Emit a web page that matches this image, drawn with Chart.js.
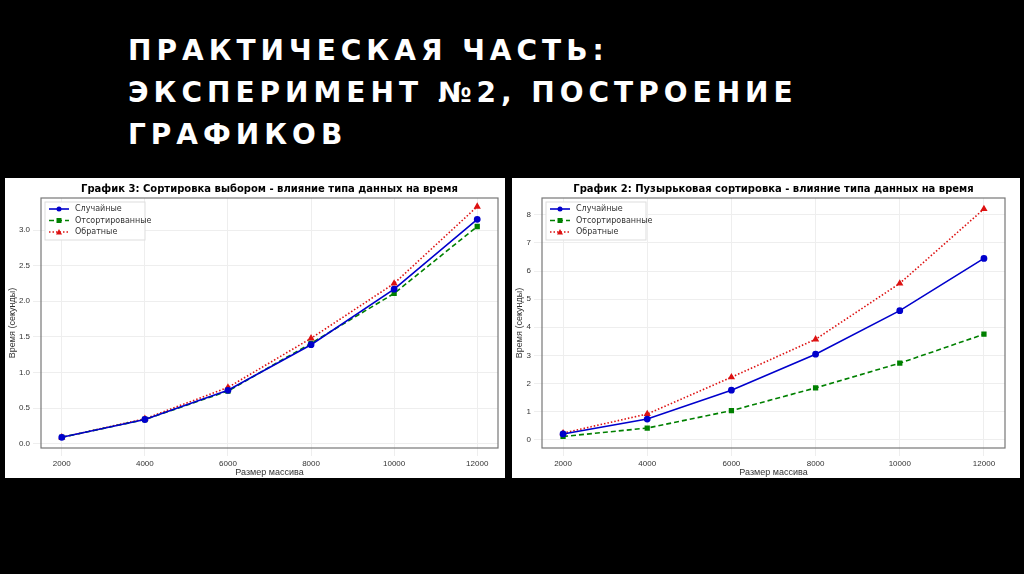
<!DOCTYPE html><html><head><meta charset="utf-8">
<script src="https://cdn.jsdelivr.net/npm/chart.js@4"></script>
<style>
body{margin:0;background:#000;width:1024px;height:574px;overflow:hidden;position:relative;font-family:"DejaVu Sans",sans-serif}
#t{position:absolute;left:128px;top:30px;color:#fff;font:bold 28px "DejaVu Sans",sans-serif;letter-spacing:5px;line-height:42px}
.c{position:absolute;background:#fff}
</style></head><body>
<div id="t">ПРАКТИЧЕСКАЯ ЧАСТЬ:<br>ЭКСПЕРИМЕНТ №2, ПОСТРОЕНИЕ<br>ГРАФИКОВ</div>
<div class="c" style="left:5px;top:178px;width:500px;height:300px"><canvas id="a"></canvas></div>
<div class="c" style="left:512px;top:178px;width:508px;height:300px"><canvas id="b"></canvas></div>
<script>
const sizes=[2000,4000,6000,8000,10000,12000];
const seriesNames=["Случайные","Отсортированные","Обратные"];
const sel_random=[0.09,0.34,0.75,1.39,2.17,3.15];
const sel_sorted=[0.09,0.34,0.74,1.41,2.11,3.05];
const sel_reverse=[0.09,0.35,0.79,1.48,2.25,3.33];
const bub_random=[0.20,0.73,1.76,3.04,4.59,6.45];
const bub_sorted=[0.11,0.41,1.03,1.84,2.72,3.75];
const bub_reverse=[0.23,0.91,2.22,3.57,5.56,8.21];
const selTicks=[0,0.5,1,1.5,2,2.5,3];
const bubTicks=[0,1,2,3,4,5,6,7,8];
const styles=[{c:'#0000cc',d:[],p:'circle'},{c:'#008000',d:[5,3],p:'rect'},{c:'#dd1111',d:[1.5,2],p:'triangle'}];
function mk(id,title,vals,ymin,ymax,yt,dec,yw,w){
 const ds=vals.map((v,i)=>({label:seriesNames[i],data:v.map((y,j)=>({x:sizes[j],y})),borderColor:styles[i].c,backgroundColor:styles[i].c,borderDash:styles[i].d,pointStyle:styles[i].p,pointRadius:2.6,borderWidth:1.6,tension:0}));
 const plug={id:'x',afterDraw(ch){const c=ch.ctx,a=ch.chartArea;c.save();
  c.strokeStyle='#777';c.lineWidth=1.2;c.strokeRect(a.left,a.top,a.right-a.left,a.bottom-a.top);
  c.fillStyle='#000';c.font='bold 10px "DejaVu Sans"';c.textAlign='center';c.textBaseline='middle';c.fillText(title,(a.left+a.right)/2,11);
  const lx=a.left+4,ly=a.top+4;c.fillStyle='rgba(255,255,255,0.9)';c.strokeStyle='#ddd';c.lineWidth=1;c.fillRect(lx,ly,100,38);c.strokeRect(lx,ly,100,38);
  c.font='8px "DejaVu Sans"';c.textAlign='left';
  styles.forEach((s,i)=>{const y=ly+7+i*11.5;c.strokeStyle=s.c;c.setLineDash(s.d);c.lineWidth=1.6;c.beginPath();c.moveTo(lx+4,y);c.lineTo(lx+24,y);c.stroke();c.setLineDash([]);
   c.fillStyle=s.c;c.beginPath();if(s.p==='circle')c.arc(lx+14,y,2.5,0,7);else if(s.p==='rect')c.rect(lx+11.5,y-2.5,5,5);else{c.moveTo(lx+14,y-3);c.lineTo(lx+17,y+2.5);c.lineTo(lx+11,y+2.5);}c.fill();
   c.fillStyle='#333';c.fillText(seriesNames[i],lx+30,y);});
  c.restore();}};
 new Chart(document.getElementById(id),{type:'line',data:{datasets:ds},plugins:[plug],
 options:{responsive:false,animation:false,devicePixelRatio:1,layout:{padding:{top:20,right:w,left:2}},
 plugins:{legend:{display:false},tooltip:{enabled:false}},
 scales:{x:{type:'linear',min:1500,max:12500,afterBuildTicks(s){s.ticks=sizes.map(v=>({value:v}))},grid:{color:'#eee'},border:{display:false},
  ticks:{color:'#333',font:{size:8},callback:v=>String(v),maxRotation:0},title:{display:true,text:'Размер массива',color:'#333',font:{size:9},padding:0},afterFit(s){s.height=30}},
 y:{min:ymin,max:ymax,grid:{color:'#eee'},border:{display:false},ticks:{color:'#333',font:{size:8},padding:3,callback:v=>v.toFixed(dec)},
  afterBuildTicks(s){s.ticks=yt.map(v=>({value:v}))},
  title:{display:true,text:'Время (секунды)',color:'#333',font:{size:9},padding:{top:0,bottom:4}},afterFit(s){s.width=yw}}}}});
}
const ca=document.getElementById('a');ca.width=500;ca.height=300;
const cb=document.getElementById('b');cb.width=508;cb.height=300;
mk('a','График 3: Сортировка выбором - влияние типа данных на время',[sel_random,sel_sorted,sel_reverse],-0.06,3.45,selTicks,1,34,7);
mk('b','График 2: Пузырьковая сортировка - влияние типа данных на время',[bub_random,bub_sorted,bub_reverse],-0.3,8.6,bubTicks,0,28,15);
</script></body></html>
